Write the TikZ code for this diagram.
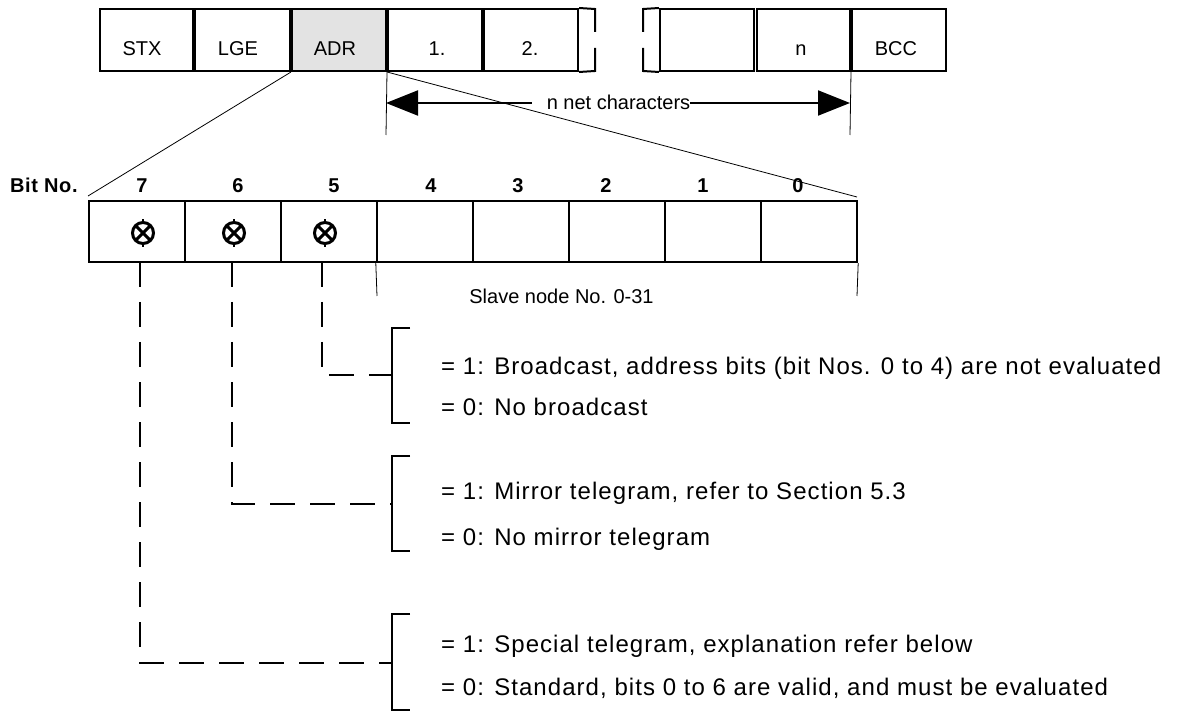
\documentclass[tikz,border=0pt]{standalone}
\usepackage{fontspec}
\setmainfont{Liberation Sans}
\newfontfamily\widefont[LetterSpace=4.4]{Liberation Sans}
\newfontfamily\bitfont[LetterSpace=3]{Liberation Sans}
\usetikzlibrary{arrows.meta}
\begin{document}
\begin{tikzpicture}[x=1pt,y=-1pt,
  topbox/.style={draw, line width=2pt, minimum height=62pt, inner sep=0pt},
  adrbox/.style={topbox, fill=black!11},
  bitbox/.style={draw, line width=2.4pt, minimum width=96pt, minimum height=61pt, inner sep=0pt},
  toplabel/.style={anchor=base, inner sep=0pt, font=\fontsize{20pt}{24pt}\selectfont},
  bitnum/.style={anchor=base, inner sep=0pt, font=\bitfont\bfseries\fontsize{20pt}{24pt}\selectfont},
  desc/.style={anchor=base west, inner sep=0pt, font=\widefont\fontsize{24pt}{28pt}\selectfont},
  dashedconn/.style={line width=2.2pt, dash pattern=on 25pt off 15pt},
  bracket/.style={line width=2.2pt},
  thinline/.style={line width=0.8pt},
  thickline/.style={line width=2pt},
  xsym/.style={line width=3pt}
]
\useasboundingbox (0,0) rectangle (1181,711);

% ---- top frame row ----
\node[topbox, minimum width=93pt] (stx) at (146.5,40) {};
\node[topbox, minimum width=95pt] (lge) at (242.5,40) {};
\node[adrbox, minimum width=94pt] (adr) at (339,40) {};
\node[topbox, minimum width=94pt] (one) at (435,40) {};
\node[topbox, minimum width=94pt] (two) at (531,40) {};
\node[topbox, minimum width=94pt] (emp) at (707,40) {};
\node[topbox, minimum width=93pt] (nbx) at (803.5,40) {};
\node[topbox, minimum width=94pt] (bcc) at (899,40) {};

\node[toplabel] (stxl) at (142,56) {STX};
\node[toplabel] (lgel) at (238,56) {LGE};
\node[toplabel] (adrl) at (335,56) {ADR};
\node[toplabel] (onel) at (437,56) {1.};
\node[toplabel] (twol) at (530,56) {2.};
\node[toplabel] (nl) at (801,56) {n};
\node[toplabel] (bccl) at (896,56) {BCC};

% broken pieces
\draw[thickline] (two.north east) -- (595,9) -- (595,32);
\draw[thickline] (two.south east) -- (595,71) -- (595,48);
\draw[thickline] (emp.north west) -- (643,9) -- (643,32);
\draw[thickline] (emp.south west) -- (643,71) -- (643,48);

% ---- dimension arrow ----
\coordinate (dl) at (386,135);
\coordinate (dr) at (850,135);
\draw[thinline] (adr.south east) -- (dl);
\draw[thinline] (nbx.south east) -- (dr);
\coordinate (al) at (386,103);
\coordinate (ar) at (850,103);
\node[toplabel] (nnet) at (618.5,110) {n net characters};
\draw[thickline, {Triangle[length=32pt,width=25pt]}-] (al) -- ([xshift=-15pt]nnet.west |- al);
\draw[thickline, -{Triangle[length=32pt,width=25pt]}] (nnet.east |- ar) -- (ar);

% ---- zoom lines ----
\coordinate (zl) at (88,196);
\coordinate (zr) at (857,197);
\draw[thinline] (adr.south west) -- (zl);
\draw[thinline] (adr.south east) -- (zr);

% ---- bit boxes ----
\node[bitbox] (b7) at (137,231.5) {};
\node[bitbox] (b6) at (233,231.5) {};
\node[bitbox] (b5) at (329,231.5) {};
\node[bitbox] (b4) at (425,231.5) {};
\node[bitbox] (b3) at (521,231.5) {};
\node[bitbox] (b2) at (617,231.5) {};
\node[bitbox] (b1) at (713,231.5) {};
\node[bitbox] (b0) at (809,231.5) {};

\node[bitnum, anchor=base west] (bitno) at (10,193) {Bit No.};
\node[bitnum] (n7) at (142,193) {7};
\node[bitnum] (n6) at (238,193) {6};
\node[bitnum] (n5) at (334,193) {5};
\node[bitnum] (n4) at (431,193) {4};
\node[bitnum] (n3) at (518,193) {3};
\node[bitnum] (n2) at (606,193) {2};
\node[bitnum] (n1) at (703,193) {1};
\node[bitnum] (n0) at (798,193) {0};

% crossed circles
\foreach \x in {143,234,325} {
  \draw[xsym] (\x,233) circle (10.5pt);
  \draw[xsym] (\x-7,226) -- (\x+7,240);
  \draw[xsym] (\x-7,240) -- (\x+7,226);
  \draw[line width=2pt] (\x,222) -- (\x,219);
  \draw[line width=2pt] (\x,244) -- (\x,247);
}

% slave node bracket lines
\coordinate (sl) at (377,296);
\coordinate (sr) at (857,296);
\draw[thinline] (b4.south west) -- (sl);
\draw[thinline] (b0.south east) -- (sr);
\node[toplabel] (slave) at (561.5,304) {Slave node No. 0-31};

% ---- brackets ----
\coordinate (j1) at (392,375);
\coordinate (j2) at (392,504);
\coordinate (j3) at (392,663);
\draw[bracket] (410,328) -- (392,328) -- (392,423) -- (410,423);
\draw[bracket] (410,456) -- (392,456) -- (392,551) -- (410,551);
\draw[bracket] (410,614) -- (392,614) -- (392,710) -- (410,710);

% ---- dashed connectors ----
\coordinate (d5) at (322,262);
\coordinate (d6) at (232,262);
\coordinate (d7) at (140,262);
\draw[dashedconn] (d5) |- (j1);
\draw[dashedconn] (d6) |- (j2);
\draw[dashedconn] (d7) |- (j3);

% ---- descriptions ----
\node[desc] (t1a) at (441,374) {= 1: Broadcast, address bits (bit Nos. 0 to 4) are not evaluated};
\node[desc] (t1b) at (441,415) {= 0: No broadcast};
\node[desc] (t2a) at (441,499) {= 1: Mirror telegram, refer to Section 5.3};
\node[desc] (t2b) at (441,545) {= 0: No mirror telegram};
\node[desc] (t3a) at (441,652) {= 1: Special telegram, explanation refer below};
\node[desc] (t3b) at (441,695) {= 0: Standard, bits 0 to 6 are valid, and must be evaluated};
\end{tikzpicture}
\end{document}
